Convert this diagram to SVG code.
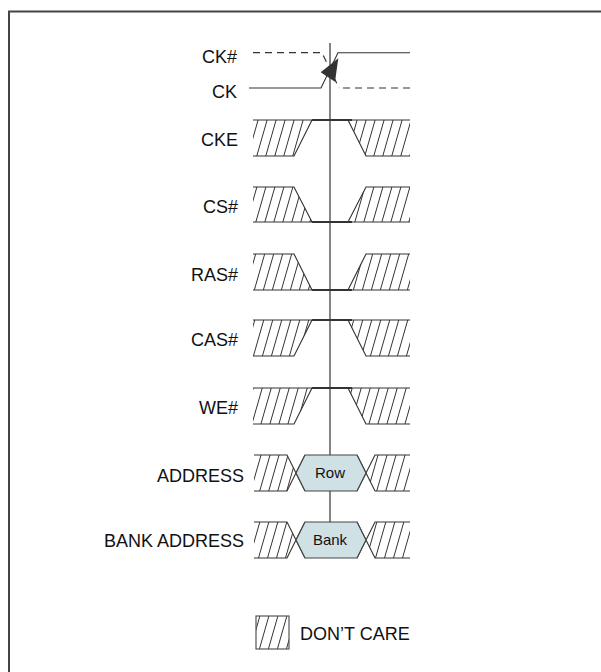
<svg xmlns="http://www.w3.org/2000/svg" width="601" height="672" viewBox="0 0 601 672">
<defs>
<pattern id="hatch" width="9" height="10" patternUnits="userSpaceOnUse" patternTransform="skewX(-16)">
<line x1="4.5" y1="-1" x2="4.5" y2="11" stroke="#333" stroke-width="1"/>
</pattern>
</defs>
<style>
text{font-family:"Liberation Sans",Arial,sans-serif;font-size:18px;fill:#111}
.lbl{text-anchor:end}
.hx{fill:url(#hatch);stroke:none}
.edge{fill:none;stroke:#333;stroke-width:1.1}
.sig{fill:none;stroke:#333;stroke-width:2.2}
.hex{fill:#cfe1e4;stroke:#444;stroke-width:1.2}
.hext{font-size:15px;text-anchor:middle}
.dash{fill:none;stroke:#333;stroke-width:1.2;stroke-dasharray:7 5}
</style>
<rect id="frame" x="9" y="11.5" width="700" height="700" fill="#fff" stroke="#444" stroke-width="2"/>

<g id="connectors">
<line x1="330" y1="43" x2="330" y2="522" stroke="#666" stroke-width="1.6"/>
</g>

<g id="ck">
<text class="lbl" x="237" y="63">CK#</text>
<text class="lbl" x="237" y="98">CK</text>
<path class="dash" d="M253,52.7 H322 L339,88 M343,88 H410"/>
<path class="edge" d="M249,88 H321 L338,52.7 H410" stroke-width="1.3"/>
<polygon points="320.7,72.3 338.3,58.3 335,81.7" fill="#333"/>
</g>

<g id="cke">
<text class="lbl" x="238" y="146">CKE</text>
<polygon class="hx" points="253,120 312,120 294,156 253,156"/>
<polygon class="hx" points="348,120 410,120 410,156 366,156"/>
<path class="edge" d="M253,120 H312 L294,156 H253 M410,120 H348 L366,156 H410"/>
<line class="sig" x1="312" y1="120" x2="352" y2="120"/>
</g>

<g id="cs">
<text class="lbl" x="238" y="212.5">CS#</text>
<polygon class="hx" points="253,187 294,187 312,222 253,222"/>
<polygon class="hx" points="366,187 410,187 410,222 348,222"/>
<path class="edge" d="M253,187 H294 L312,222 H253 M410,187 H366 L348,222 H410"/>
<line class="sig" x1="312" y1="222" x2="352" y2="222"/>
</g>

<g id="ras">
<text class="lbl" x="238" y="281">RAS#</text>
<polygon class="hx" points="253,254 294,254 312,290 253,290"/>
<polygon class="hx" points="366,254 410,254 410,290 348,290"/>
<path class="edge" d="M253,254 H294 L312,290 H253 M410,254 H366 L348,290 H410"/>
<line class="sig" x1="312" y1="290" x2="352" y2="290"/>
</g>

<g id="cas">
<text class="lbl" x="238" y="346">CAS#</text>
<polygon class="hx" points="253,320 312,320 294,356 253,356"/>
<polygon class="hx" points="348,320 410,320 410,356 366,356"/>
<path class="edge" d="M253,320 H312 L294,356 H253 M410,320 H348 L366,356 H410"/>
<line class="sig" x1="312" y1="320" x2="352" y2="320"/>
</g>

<g id="we">
<text class="lbl" x="238" y="414">WE#</text>
<polygon class="hx" points="253,388 312,388 294,424 253,424"/>
<polygon class="hx" points="348,388 410,388 410,424 366,424"/>
<path class="edge" d="M253,388 H312 L294,424 H253 M410,388 H348 L366,424 H410"/>
<line class="sig" x1="312" y1="388" x2="352" y2="388"/>
</g>

<g id="address">
<text class="lbl" x="244" y="481.5">ADDRESS</text>
<polygon class="hx" points="254,455 287,455 296,473 287,491 254,491"/>
<polygon class="hx" points="375,455 410,455 410,491 375,491 366,473"/>
<path class="edge" d="M254,455 H287 L305,491 M254,491 H287 L305,455 M410,455 H375 L357,491 M410,491 H375 L357,455"/>
<polygon class="hex" points="305,455 357,455 366,473 357,491 305,491 296,473"/>
<text class="hext" x="330" y="477.5">Row</text>
</g>

<g id="bank-address">
<text class="lbl" x="244" y="547">BANK ADDRESS</text>
<polygon class="hx" points="254,522 287,522 296,540 287,558 254,558"/>
<polygon class="hx" points="375,522 410,522 410,558 375,558 366,540"/>
<path class="edge" d="M254,522 H287 L305,558 M254,558 H287 L305,522 M410,522 H375 L357,558 M410,558 H375 L357,522"/>
<polygon class="hex" points="305,522 357,522 366,540 357,558 305,558 296,540"/>
<text class="hext" x="330" y="545">Bank</text>
</g>

<g id="legend">
<rect x="256" y="616" width="33" height="33" fill="url(#hatch)" stroke="#555" stroke-width="1.2"/>
<text x="300" y="640">DON’T CARE</text>
</g>
</svg>
